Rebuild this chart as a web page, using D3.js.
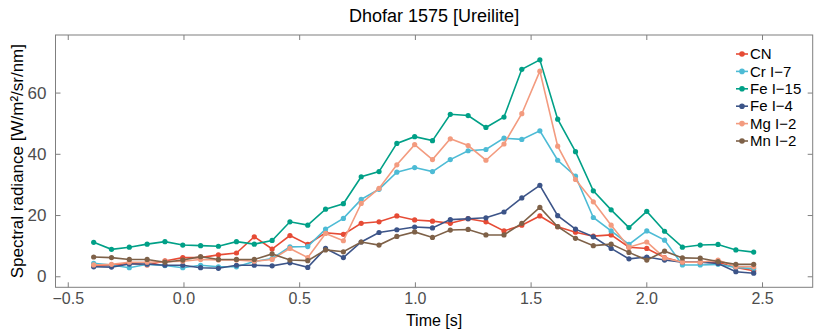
<!DOCTYPE html>
<html>
<head>
<meta charset="utf-8">
<script src="https://cdn.jsdelivr.net/npm/d3@7"></script>
<style>
  body { margin: 0; background: #fff; }
  text { font-family: "Liberation Sans", Arial, sans-serif; }
</style>
</head>
<body>
<svg id="chart" width="830" height="332"></svg>
<script>
// Données
const temps = [-0.388, -0.311, -0.234, -0.157, -0.080, -0.003, 0.074, 0.151, 0.229, 0.306,
               0.383, 0.460, 0.537, 0.614, 0.691, 0.768, 0.845, 0.922, 0.999, 1.076,
               1.153, 1.230, 1.307, 1.385, 1.462, 1.540, 1.617, 1.694, 1.771, 1.848,
               1.925, 2.002, 2.079, 2.156, 2.233, 2.310, 2.387, 2.464];

const cn   = [3.4, 3.6, 4.3, 3.7, 5.0, 6.1, 6.1, 7.0, 7.6, 12.9, 8.9, 13.3, 10.4, 14.2, 13.7, 17.3, 17.8, 19.7, 18.4, 18.0,
              17.3, 18.8, 17.8, 14.8, 16.7, 19.7, 16.2, 14.4, 13.1, 13.5, 9.5, 9.1, 6.1, 4.6, 4.6, 4.6, 2.9, 1.8];
const cr7  = [4.2, 3.7, 2.8, 3.9, 3.5, 2.8, 3.6, 3.1, 3.1, 4.8, 5.8, 9.6, 9.7, 15.4, 18.9, 25.1, 28.4, 34.0, 35.5, 34.2,
              38.1, 41.0, 41.4, 45.1, 44.7, 47.5, 37.9, 32.7, 19.2, 14.8, 10.4, 14.8, 11.8, 3.7, 3.7, 3.9, 2.9, 2.5];
const fe15 = [11.1, 8.8, 9.5, 10.5, 11.3, 10.2, 10.0, 9.8, 11.3, 10.5, 11.7, 17.8, 16.7, 21.9, 23.7, 32.5, 34.2, 43.4, 45.6, 44.3,
              52.9, 52.5, 48.6, 52.0, 67.6, 70.7, 51.3, 40.7, 27.9, 21.7, 15.9, 21.2, 14.7, 9.5, 10.2, 10.4, 8.6, 7.9];
const fe4  = [3.1, 3.0, 4.0, 4.0, 3.6, 3.6, 2.8, 2.6, 3.6, 3.6, 3.4, 4.4, 2.9, 9.1, 6.1, 11.2, 14.3, 15.2, 16.1, 15.8,
              18.5, 18.8, 19.1, 21.0, 25.6, 29.7, 19.8, 15.4, 12.9, 9.1, 5.7, 6.3, 5.3, 4.6, 4.6, 4.2, 1.5, 1.0];
const mg2  = [3.7, 3.9, 4.6, 4.6, 4.8, 4.9, 5.5, 5.3, 5.3, 4.9, 5.5, 9.1, 6.1, 14.0, 11.6, 23.8, 28.7, 36.4, 43.0, 38.1,
              44.9, 42.7, 37.9, 43.2, 53.1, 67.0, 42.5, 31.6, 24.3, 16.7, 9.5, 11.2, 6.0, 4.6, 4.6, 5.3, 3.1, 3.1];
const mn2  = [6.3, 6.1, 5.5, 5.5, 4.6, 5.3, 6.4, 5.5, 5.5, 5.5, 7.3, 5.3, 5.1, 8.6, 8.0, 11.2, 10.2, 13.0, 14.5, 12.7,
              15.1, 15.3, 13.5, 13.5, 17.3, 22.5, 16.2, 12.4, 10.0, 10.5, 7.8, 5.3, 8.2, 6.0, 5.9, 4.8, 3.9, 3.9];

const noms    = ["CN", "Cr I\u22127", "Fe I\u221215", "Fe I\u22124", "Mg I\u22122", "Mn I\u22122"];
const series  = [cn, cr7, fe15, fe4, mg2, mn2];
const couleurs = ["#e64b35", "#4dbbd5", "#00a087", "#3c5488", "#f39b7f", "#7e6148"];

const ticksX = [-0.5, 0, 0.5, 1, 1.5, 2, 2.5];
const ticksY = [0, 20, 40, 60];

// Zone de tracé
const svg = d3.select("#chart");
const gauche = 55.5, droite = 812.7, haut = 35, bas = 287.3;

const x = d3.scaleLinear().domain([-0.553, 2.719]).range([gauche, droite]);
const y = d3.scaleLinear().domain([-3.6, 78.8]).range([bas, haut]);

const gris = "#7f7f7f";

// Axes (ticks vers l'intérieur, boîte complète)
const fmtX = d => d3.format(".1f")(d).replace("-", "\u2212");
svg.append("g").attr("class", "axe-x").attr("transform", `translate(0,${bas})`)
    .call(d3.axisBottom(x).tickValues(ticksX).tickSize(-5).tickPadding(5).tickFormat(fmtX));
svg.append("g").attr("transform", `translate(0,${haut})`)
    .call(d3.axisTop(x).tickValues(ticksX).tickSize(-5).tickFormat(""));
svg.append("g").attr("transform", `translate(${gauche},0)`)
    .call(d3.axisLeft(y).tickValues(ticksY).tickSize(-5).tickPadding(9));
svg.append("g").attr("transform", `translate(${droite},0)`)
    .call(d3.axisRight(y).tickValues(ticksY).tickSize(-5).tickFormat(""));

svg.selectAll(".domain").remove();
svg.selectAll(".tick line").attr("stroke", gris).attr("stroke-width", 1);
svg.selectAll(".tick text").attr("fill", "#4d4d4d").attr("font-size", 17)
    .attr("font-family", "Liberation Sans, Arial, sans-serif");
svg.selectAll(".axe-x .tick text").attr("font-size", 16);

svg.append("rect").attr("x", gauche).attr("y", haut)
    .attr("width", droite - gauche).attr("height", bas - haut)
    .attr("fill", "none").attr("stroke", gris).attr("stroke-width", 1);

// Courbes
const ligne = d3.line().x((d, i) => x(temps[i])).y(d => y(d));

series.forEach((s, k) => {
    const g = svg.append("g");
    g.append("path").datum(s).attr("d", ligne)
        .attr("fill", "none").attr("stroke", couleurs[k]).attr("stroke-width", 1.6);
    g.selectAll("circle").data(s).join("circle")
        .attr("cx", (d, i) => x(temps[i])).attr("cy", d => y(d))
        .attr("r", 2.6).attr("fill", couleurs[k]);
});

// Légende
const leg = svg.append("g").attr("transform", "translate(736,54)");
noms.forEach((n, k) => {
    const r = leg.append("g").attr("transform", `translate(0,${k * 17.4})`);
    r.append("line").attr("x1", 0).attr("x2", 12).attr("stroke", couleurs[k]).attr("stroke-width", 1.6);
    r.append("circle").attr("cx", 6).attr("r", 2.8).attr("fill", couleurs[k]);
    r.append("text").attr("x", 14).attr("dy", "0.35em").attr("font-size", 15).text(n);
});

// Titres
svg.append("text").attr("x", (gauche + droite) / 2).attr("y", 22)
    .attr("text-anchor", "middle").attr("font-size", 18).text("Dhofar 1575 [Ureilite]");
svg.append("text").attr("x", (gauche + droite) / 2).attr("y", 326)
    .attr("text-anchor", "middle").attr("font-size", 16).text("Time [s]");
svg.append("text").attr("transform", `translate(23,${(haut + bas) / 2}) rotate(-90)`)
    .attr("text-anchor", "middle").attr("font-size", 17).text("Spectral radiance [W/m\u00b2/sr/nm]");
</script>
</body>
</html>
